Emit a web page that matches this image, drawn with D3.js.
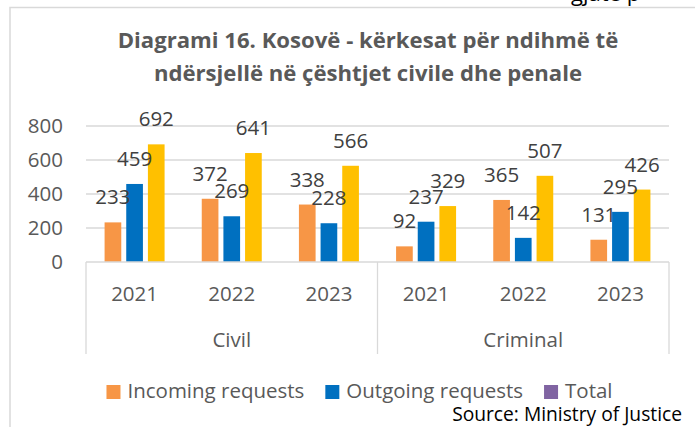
<!DOCTYPE html>
<html>
<head>
<meta charset="utf-8">
<script src="https://cdn.jsdelivr.net/npm/d3@7"></script>
<style>
  body { margin: 0; background: #fff; }
  svg { display: block; font-family: "Open Sans", sans-serif; }
</style>
</head>
<body>
<svg id="chart" width="695" height="427"></svg>
<script>
// chart data
const titleLines = ["Diagrami 16. Kosovë - kërkesat për ndihmë të", "ndërsjellë në çështjet civile dhe penale"];
const groups = ["Civil", "Criminal"];
const years = ["2021", "2022", "2023"];
const seriesNames = ["Incoming requests", "Outgoing requests", "Total"];
const incoming = [233, 372, 338, 92, 365, 131];
const outgoing = [459, 269, 228, 237, 142, 295];
const total = [692, 641, 566, 329, 507, 426];
const yTicks = [0, 200, 400, 600, 800];
const sourceText = "Source: Ministry of Justice";

const barColors = ["#F79646", "#0070C0", "#FFC000"];
const legendColors = ["#F79646", "#0070C0", "#8064A2"];

const svg = d3.select("#chart");

// size a text so that it spans the given width
function fitSize(sel, width) {
  sel.attr("font-size", 20);
  const s = 20 * width / sel.node().getComputedTextLength();
  sel.attr("font-size", s);
  return s;
}

// categories are group/year pairs
const cats = [];
groups.forEach(g => years.forEach(y => cats.push(g + "|" + y)));
const values = [incoming, outgoing, total];

const x = d3.scaleBand().domain(cats).range([86, 669]).padding(0);
const y = d3.scaleLinear().domain([0, 800]).range([262, 126]);

const groupWidth = 60;
const inner = d3.scaleBand().domain(d3.range(3)).range([0, groupWidth])
  .paddingInner(0.23).paddingOuter(0);

const labelSize = 20.5;

// frame of the embedded chart
svg.append("rect")
  .attr("x", 10).attr("y", 7.5).attr("width", 760).attr("height", 500)
  .attr("fill", "none").attr("stroke", "#d9d9d9").attr("stroke-width", 1.5);

// cut-off text from the page above
svg.append("text")
  .attr("x", 571).attr("y", 0.5)
  .attr("font-size", 22).attr("fill", "#000")
  .text("gjatë p");

// title
const title = svg.append("g").attr("font-weight", "bold").attr("fill", "#595959")
  .attr("text-anchor", "middle");
const t1 = title.append("text").attr("x", 368).attr("y", 48).text(titleLines[0]);
const ts = fitSize(t1, 501);
title.append("text").attr("x", 368).attr("y", 81).attr("font-size", ts).text(titleLines[1]);

// gridlines and y labels
svg.append("g").selectAll("line").data(yTicks.filter(d => d > 0)).join("line")
  .attr("x1", 86).attr("x2", 669)
  .attr("y1", d => y(d)).attr("y2", d => y(d))
  .attr("stroke", "#d9d9d9").attr("stroke-width", 1.3);

svg.append("g").selectAll("text").data(yTicks).join("text")
  .attr("x", 63).attr("y", d => y(d)).attr("dy", "0.36em")
  .attr("text-anchor", "end").attr("font-size", labelSize).attr("fill", "#595959")
  .text(d => d);

// bars
const barG = svg.append("g");
values.forEach(function (vals, s) {
  barG.append("g").selectAll("rect").data(vals).join("rect")
    .attr("x", (d, i) => x(cats[i]) + (x.bandwidth() - groupWidth) / 2 + inner(s))
    .attr("width", inner.bandwidth())
    .attr("y", d => y(d))
    .attr("height", d => y(0) - y(d))
    .attr("fill", barColors[s]);
});

// data labels
values.forEach(function (vals, s) {
  svg.append("g").selectAll("text").data(vals).join("text")
    .attr("x", (d, i) => x(cats[i]) + (x.bandwidth() - groupWidth) / 2 + inner(s) + inner.bandwidth() / 2)
    .attr("y", d => y(d) - 18)
    .attr("text-anchor", "middle").attr("font-size", labelSize).attr("fill", "#404040")
    .text(d => d);
});

// category axis (two levels)
const axisG = svg.append("g").attr("stroke", "#d9d9d9").attr("stroke-width", 1.3);
axisG.append("line").attr("x1", 86).attr("x2", 669).attr("y1", y(0)).attr("y2", y(0));
const seps = [cats[0], cats[3]].map(c => x(c)).concat([x(cats[5]) + x.bandwidth()]);
axisG.selectAll("line.sep").data(seps).join("line").attr("class", "sep")
  .attr("x1", d => d).attr("x2", d => d).attr("y1", y(0)).attr("y2", 354);

svg.append("g").selectAll("text").data(cats).join("text")
  .attr("x", d => x(d) + x.bandwidth() / 2).attr("y", 301)
  .attr("text-anchor", "middle").attr("font-size", labelSize).attr("fill", "#595959")
  .text(d => d.split("|")[1]);

svg.append("g").selectAll("text").data(groups).join("text")
  .attr("x", (g, i) => (x(cats[i * 3]) + x(cats[i * 3 + 2]) + x.bandwidth()) / 2)
  .attr("y", 347)
  .attr("text-anchor", "middle").attr("font-size", labelSize).attr("fill", "#595959")
  .text(d => d);

// legend
const legend = svg.append("g");
const probe = legend.append("text").text(seriesNames[0]);
const legendSize = fitSize(probe, 177);
probe.remove();
const keyGap = 21, itemGap = 21;
let lx = 0;
seriesNames.forEach(function (name, i) {
  const item = legend.append("g").attr("transform", "translate(" + lx + ",0)");
  item.append("rect").attr("x", 0).attr("y", 385).attr("width", 14).attr("height", 14)
    .attr("fill", legendColors[i]);
  const t = item.append("text").attr("x", keyGap).attr("y", 398)
    .attr("font-size", legendSize).attr("fill", "#595959").text(name);
  lx += keyGap + t.node().getComputedTextLength() + itemGap;
});
legend.attr("transform", "translate(" + (359.5 - (lx - itemGap) / 2) + ",0)");

// source
const src = svg.append("text")
  .attr("x", 682).attr("y", 421).attr("text-anchor", "end")
  .attr("fill", "#000")
  .text(sourceText);
fitSize(src, 230);
</script>
</body>
</html>
